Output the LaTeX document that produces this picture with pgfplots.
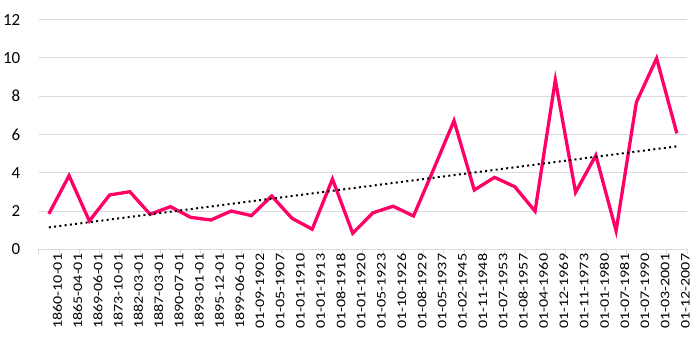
\documentclass[border=0pt]{standalone}
\usepackage{graphicx}
\usepackage{pgfplots}
\usepackage{pgfplotstable}
\pgfplotsset{compat=1.18}
\usepackage{fontspec}
\setmainfont{Carlito}
\definecolor{linepink}{HTML}{FF0066}
\definecolor{gridgray}{HTML}{D9D9D9}
\newcommand\stl[1]{\scalebox{1.22}[1]{#1}}
\pgfplotstableread{
x y
0 1.85
1 3.85
2 1.48
3 2.84
4 3.01
5 1.83
6 2.23
7 1.67
8 1.53
9 2.00
10 1.76
11 2.79
12 1.62
13 1.05
14 3.67
15 0.84
16 1.91
17 2.25
18 1.74
19 4.20
20 6.72
21 3.10
22 3.76
23 3.27
24 1.99
25 8.85
26 2.98
27 4.91
28 0.97
29 7.68
30 9.98
31 6.06
}\data
\begin{document}
\begin{tikzpicture}
\begin{axis}[
  name=ax,
  scale only axis,
  width=648.3bp, height=229.6bp,
  xmin=-0.5, xmax=31.5,
  ymin=0, ymax=12,
  ytick={0,2,...,12},
  xtick={0,...,31},
  xticklabels={\stl{1860-10-01},\stl{1865-04-01},\stl{1869-06-01},\stl{1873-10-01},\stl{1882-03-01},\stl{1887-03-01},\stl{1890-07-01},\stl{1893-01-01},\stl{1895-12-01},\stl{1899-06-01},\stl{01-09-1902},\stl{01-05-1907},\stl{01-01-1910},\stl{01-01-1913},\stl{01-08-1918},\stl{01-01-1920},\stl{01-05-1923},\stl{01-10-1926},\stl{01-08-1929},\stl{01-05-1937},\stl{01-02-1945},\stl{01-11-1948},\stl{01-07-1953},\stl{01-08-1957},\stl{01-04-1960},\stl{01-12-1969},\stl{01-11-1973},\stl{01-01-1980},\stl{01-07-1981},\stl{01-07-1990},\stl{01-03-2001},\stl{01-12-2007}},
  minor xtick={-0.5,0.5,...,31.5},
  major x tick style={draw=none},
  minor x tick style={draw=gridgray, line width=0.8bp},
  minor tick length=4.5bp,
  tick align=outside,
  ytick style={draw=none},
  axis x line*=bottom,
  axis y line*=left,
  y axis line style={draw=none},
  x axis line style={draw=gridgray, line width=1bp},
  ymajorgrids,
  grid style={draw=gridgray, line width=1bp},
  /pgf/number format/assume math mode=true,
  yticklabel style={font=\fontsize{17}{17}\selectfont, anchor=east, inner sep=0pt, xshift=-14bp},
  xticklabel style={font=\fontsize{13.2}{13.2}\selectfont, rotate=90, anchor=east, inner sep=0pt, yshift=-8.5bp},
  clip=false,
]
\addplot[color=linepink, line width=3.3bp, line join=miter] table[x=x, y=y] {\data};
\addplot[black, line width=2bp, dash pattern=on 2bp off 3.3bp] table[x=x, y={create col/linear regression={y=y}}] {\data};
\end{axis}
\pgfresetboundingbox
\path[use as bounding box] ([xshift=-38.7bp,yshift=-101.7bp]ax.south west) rectangle ([xshift=13bp,yshift=19.7bp]ax.north east);
\end{tikzpicture}
\end{document}
